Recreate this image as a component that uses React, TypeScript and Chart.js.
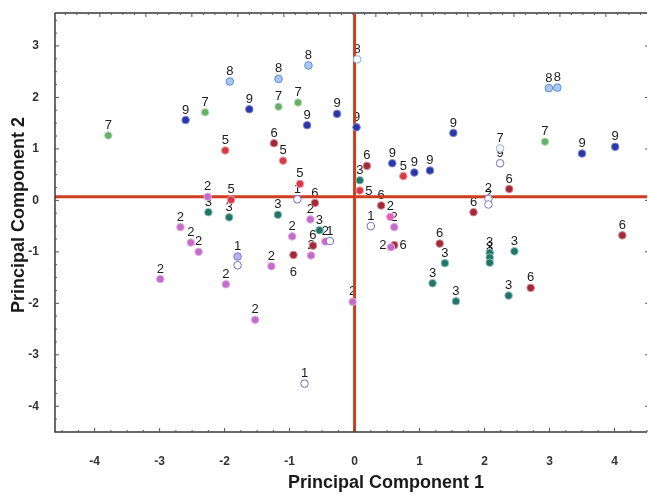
import React, { useEffect, useRef } from "react";
import { Chart, registerables } from "chart.js";

Chart.register(...registerables);

// ---- data (PC1, PC2) per group ----
const groupIds = ["1", "2", "3", "5", "6", "7", "8", "9"];

const group1: [number, number][] = [
  [-0.88, 0.02], [-1.8, -1.09], [-1.8, -1.26], [-0.77, -3.56], [-0.38, -0.79], [0.25, -0.5],
];
const group2: [number, number][] = [
  [-2.26, 0.07], [-2.68, -0.52], [-2.52, -0.82], [-2.4, -1.0], [-2.99, -1.53], [-1.98, -1.63],
  [-1.53, -2.32], [-1.28, -1.28], [-0.96, -0.7], [-0.67, -1.07], [-0.68, -0.37], [-0.45, -0.8],
  [-0.03, -1.97], [0.55, -0.32], [0.61, -0.52], [0.56, -0.91], [2.06, 0.03], [2.06, -0.08],
];
const group3: [number, number][] = [
  [-2.25, -0.23], [-1.93, -0.33], [-1.18, -0.28], [-0.54, -0.58], [0.08, 0.39], [1.39, -1.22],
  [1.2, -1.61], [1.56, -1.96], [2.08, -1.02], [2.08, -1.11], [2.08, -1.21], [2.46, -0.99], [2.37, -1.85],
];
const group5: [number, number][] = [
  [-1.99, 0.97], [-1.1, 0.77], [-0.84, 0.32], [-1.9, 0.01], [0.75, 0.47], [0.08, 0.19],
];
const group6: [number, number][] = [
  [-1.24, 1.11], [-0.61, -0.05], [-0.64, -0.88], [-0.94, -1.06], [0.19, 0.67], [0.41, -0.1],
  [0.61, -0.87], [1.31, -0.84], [1.83, -0.23], [2.38, 0.22], [2.71, -1.7], [4.12, -0.68],
];
const group7: [number, number][] = [
  [-3.79, 1.26], [-2.3, 1.71], [-1.17, 1.82], [-0.87, 1.9], [2.93, 1.14], [2.24, 1.01],
];
const group8: [number, number][] = [
  [-1.92, 2.31], [-1.17, 2.36], [-0.71, 2.62], [0.04, 2.74], [2.99, 2.18], [3.12, 2.19],
];
const group9: [number, number][] = [
  [-2.6, 1.56], [-1.62, 1.77], [-0.73, 1.46], [-0.27, 1.68], [0.03, 1.42], [1.52, 1.31],
  [0.58, 0.72], [0.92, 0.54], [1.16, 0.58], [2.24, 0.72], [3.5, 0.91], [4.01, 1.04],
];

const groups = [group1, group2, group3, group5, group6, group7, group8, group9];

const xTicks = [-4, -3, -2, -1, 0, 1, 2, 3, 4];
const yTicks = [-4, -3, -2, -1, 0, 1, 2, 3];
const xTitle = "Principal Component 1";
const yTitle = "Principal Component 2";

// ---- styles ----
const fillColors = ["#ffffff", "#c46cc8", "#1f7568", "#d63a48", "#a2293a", "#66b068", "#a9c8f2", "#2b37a8"];
const edgeColors = ["#6f6ad2", "#dfb0e6", "#8fc0b6", "#f0a0a6", "#d38c94", "#bfe2bf", "#5e8ad2", "#8088d2"];

const pointOverrides: Record<string, [string, string]> = {
  "0-1": ["#b9b2ea", "#8078d4"],
  "1-13": ["#e65cb6", "#f2a6da"],
  "1-16": ["#ffffff", "#7a78d0"],
  "1-17": ["#ffffff", "#7a78d0"],
  "5-5": ["#eef4f2", "#9ab4c8"],
  "6-3": ["#ffffff", "#86aee0"],
  "7-9": ["#ffffff", "#6e6ed2"],
};

const labelPlacement: Record<string, [number, number] | null> = {
  "0-2": null,
  "3-5": [9, 1],
  "4-3": [0, 17],
  "4-6": [9, 0],
  "1-15": [-8, -2],
};

const refLineY = 0.07;
const topTickStart = -3.92;
const topTickStep = 0.708;

const decorPlugin = {
  id: "decor",
  beforeDatasetsDraw(chart: any) {
    const { ctx, chartArea, scales } = chart;
    const { left, right, top, bottom } = chartArea;
    const x = scales.x;
    const y = scales.y;
    ctx.save();
    // point labels
    ctx.font = '13px "Liberation Sans", Arial, sans-serif';
    ctx.fillStyle = "#1c1c1c";
    ctx.textAlign = "center";
    ctx.textBaseline = "middle";
    chart.data.datasets.forEach((_ds: any, di: number) => {
      const meta = chart.getDatasetMeta(di);
      meta.data.forEach((el: any, pi: number) => {
        const key = `${di}-${pi}`;
        let off: [number, number] = [0, -10];
        if (key in labelPlacement) {
          const p = labelPlacement[key];
          if (!p) return;
          off = p;
        }
        ctx.fillText(groupIds[di], el.x + off[0], el.y + off[1]);
      });
    });
    // reference lines
    ctx.strokeStyle = "#cf3d20";
    ctx.lineWidth = 3;
    const x0 = x.getPixelForValue(0);
    const y0 = y.getPixelForValue(refLineY);
    ctx.beginPath();
    ctx.moveTo(x0, top + 1);
    ctx.lineTo(x0, bottom);
    ctx.moveTo(left, y0);
    ctx.lineTo(right, y0);
    ctx.stroke();
    ctx.restore();
  },
  afterDraw(chart: any) {
    const { ctx, chartArea, scales } = chart;
    const { left, right, top, bottom } = chartArea;
    const x = scales.x;
    const y = scales.y;
    ctx.save();
    ctx.strokeStyle = "#3a3a3a";
    ctx.lineWidth = 1.5;
    ctx.beginPath();
    ctx.moveTo(left, top);
    ctx.lineTo(left, bottom);
    ctx.lineTo(right, bottom);
    ctx.moveTo(left, top);
    ctx.lineTo(right, top);
    ctx.stroke();

    ctx.lineWidth = 1;
    ctx.strokeStyle = "#555";
    ctx.beginPath();
    // bottom ticks
    for (let v = -4.5; v <= 4.5; v += 0.25) {
      const px = x.getPixelForValue(v);
      if (px < left || px > right) continue;
      const major = Math.abs(v - Math.round(v)) < 1e-6;
      ctx.moveTo(px, bottom);
      ctx.lineTo(px, bottom - (major ? 4 : 2));
    }
    // left ticks + right ticks
    for (let v = -4.5; v <= 3.75; v += 0.25) {
      const py = y.getPixelForValue(v);
      if (py < top || py > bottom) continue;
      const major = Math.abs(v - Math.round(v)) < 1e-6;
      ctx.moveTo(left, py);
      ctx.lineTo(left + (major ? 4 : 2), py);
      if (major) {
        ctx.moveTo(right, py);
        ctx.lineTo(right - 2, py);
      }
    }
    // top ticks
    for (let i = 0; i < 60; i++) {
      const v = topTickStart - topTickStep + (i * topTickStep) / 4;
      const px = x.getPixelForValue(v);
      if (px < left || px > right) continue;
      ctx.moveTo(px, top);
      ctx.lineTo(px, top + (i % 4 === 0 ? 4 : 2));
    }
    ctx.stroke();

    // axis titles
    ctx.fillStyle = "#1a1a1a";
    ctx.font = 'bold 18px "Liberation Sans", Arial, sans-serif';
    ctx.textAlign = "center";
    ctx.textBaseline = "middle";
    ctx.fillText(xTitle, 386, 483);
    ctx.translate(19, 215);
    ctx.rotate(-Math.PI / 2);
    ctx.fillText(yTitle, 0, 0);
    ctx.restore();
  },
};

export default function App() {
  const ref = useRef<HTMLCanvasElement | null>(null);
  useEffect(() => {
    document.body.style.margin = "0";
    const canvas = ref.current;
    if (!canvas) return;
    const datasets = groups.map((g, di) => ({
      label: groupIds[di],
      data: g.map(([px, py]) => ({ x: px, y: py })),
      pointRadius: 3.8,
      pointBorderWidth: 1,
      pointBackgroundColor: g.map((_, pi) => (pointOverrides[`${di}-${pi}`] || [fillColors[di]])[0]),
      pointBorderColor: g.map((_, pi) => (pointOverrides[`${di}-${pi}`] || [null, edgeColors[di]])[1]),
      showLine: false,
    }));
    const tickFont = { family: '"Liberation Sans", Arial, sans-serif', size: 12, weight: "bold" as const };
    const chart = new Chart(canvas, {
      type: "scatter",
      data: { datasets },
      plugins: [decorPlugin],
      options: {
        responsive: false,
        animation: false,
        events: [],
        layout: { autoPadding: false, padding: { top: 13, right: 1, left: 0, bottom: 0 } },
        plugins: { legend: { display: false }, tooltip: { enabled: false } },
        scales: {
          x: {
            type: "linear",
            min: -4.61,
            max: 4.5,
            afterFit: (s: any) => { s.height = 68; s.paddingLeft = 0; s.paddingRight = 0; },
            afterBuildTicks: (s: any) => { s.ticks = xTicks.map((v) => ({ value: v })); },
            ticks: { color: "#333", font: tickFont, padding: 14, callback: (v: any) => String(v) },
            grid: { display: false },
            border: { display: false },
          },
          y: {
            type: "linear",
            min: -4.5,
            max: 3.64,
            afterFit: (s: any) => { s.width = 55; s.paddingTop = 0; s.paddingBottom = 0; },
            afterBuildTicks: (s: any) => { s.ticks = yTicks.map((v) => ({ value: v })); },
            ticks: { color: "#333", font: tickFont, padding: 8, callback: (v: any) => String(v) },
            grid: { display: false },
            border: { display: false },
          },
        },
      },
    });
    return () => chart.destroy();
  }, []);
  return <canvas ref={ref} width={648} height={500} style={{ display: "block" }} />;
}
